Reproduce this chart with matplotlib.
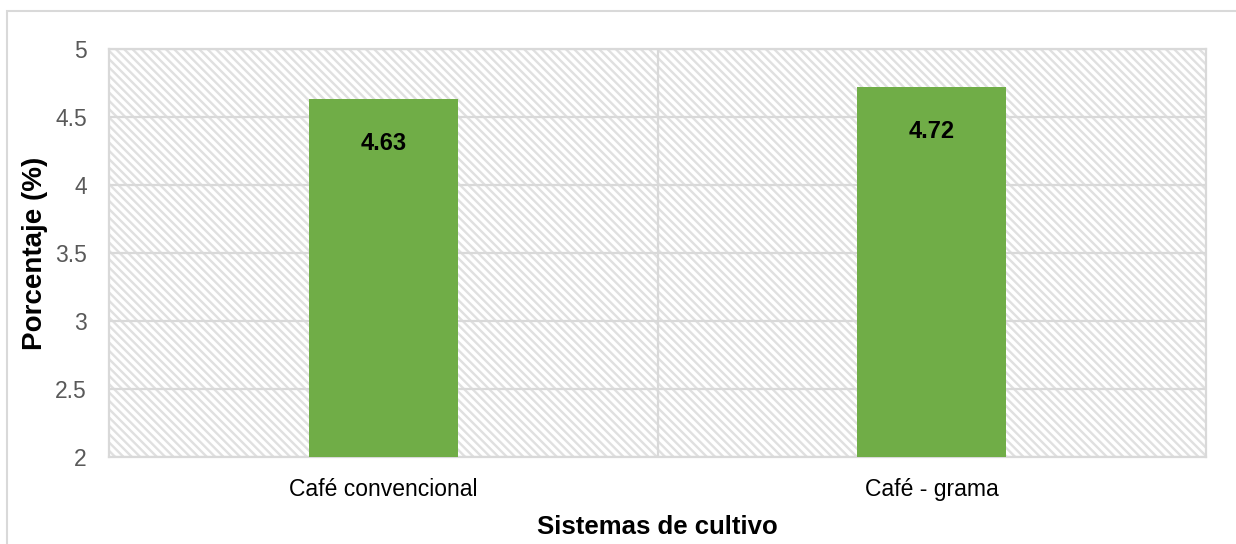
import matplotlib
matplotlib.use("Agg")
import matplotlib.pyplot as plt
from matplotlib.patches import Rectangle

categories = ["Café convencional", "Café - grama"]
values = [4.63, 4.72]
value_labels = ["4.63", "4.72"]
y_ticks = [2, 2.5, 3, 3.5, 4, 4.5, 5]
y_tick_labels = ["2", "2.5", "3", "3.5", "4", "4.5", "5"]

plt.rcParams['font.family'] = ['Liberation Sans', 'DejaVu Sans']
plt.rcParams['hatch.color'] = '#e0e0e0'
plt.rcParams['hatch.linewidth'] = 1.7

W, H = 1236, 544
fig = plt.figure(figsize=(W / 100, H / 100), dpi=100)
fig.patch.set_facecolor('white')

# outer chart frame (only left/top visible)
fig.patches.append(Rectangle((7 / W, -0.1), 1.2, (1 - 11 / H) + 0.1,
                             transform=fig.transFigure, fill=False,
                             edgecolor='#d9d9d9', linewidth=1.5))

ax = fig.add_axes([109 / W, 1 - 457 / H, (1206 - 109) / W, (457 - 49) / H])
ax.set_facecolor('white')

# hatched background
bg = Rectangle((0, 0), 1, 1, transform=ax.transAxes, facecolor='white',
               hatch='\\\\\\\\', edgecolor='#e0e0e0', linewidth=0, zorder=0)
ax.add_patch(bg)

x = list(range(len(categories)))
ax.bar(x, values, width=0.272, color='#70AD47', zorder=3)

for xi, v, lab in zip(x, values, value_labels):
    ax.annotate(lab, (xi, v), xytext=(0, -32), textcoords='offset points',
                ha='center', va='center', fontsize=17, fontweight='bold',
                color='black', zorder=4)

ax.set_xlim(-0.5, len(categories) - 0.5)
ax.set_ylim(2, 5)
ax.set_yticks(y_ticks)
ax.set_yticklabels(y_tick_labels)
ax.set_xticks(x)
ax.set_xticklabels(categories)

ax.yaxis.grid(True, color='#d9d9d9', linewidth=1.6, zorder=1)
ax.set_axisbelow(True)
ax.axvline(0.5, color='#d9d9d9', linewidth=1.6, zorder=1)

for s in ax.spines.values():
    s.set_color('#d9d9d9')
    s.set_linewidth(1.6)

ax.tick_params(axis='both', length=0, labelsize=16.5, labelcolor='#595959')
ax.tick_params(axis='y', pad=16)
ax.tick_params(axis='x', pad=15, labelcolor='black')

ax.set_ylabel('Porcentaje (%)', fontsize=20, fontweight='bold', va='center')
ax.set_xlabel('Sistemas de cultivo', fontsize=18.5, fontweight='bold', va='center')
ax.yaxis.set_label_coords((35 - 109) / (1206 - 109), 0.5)
ax.xaxis.set_label_coords(0.5, (457 - 527) / (457 - 49))

fig.savefig('out.png', dpi=100)
